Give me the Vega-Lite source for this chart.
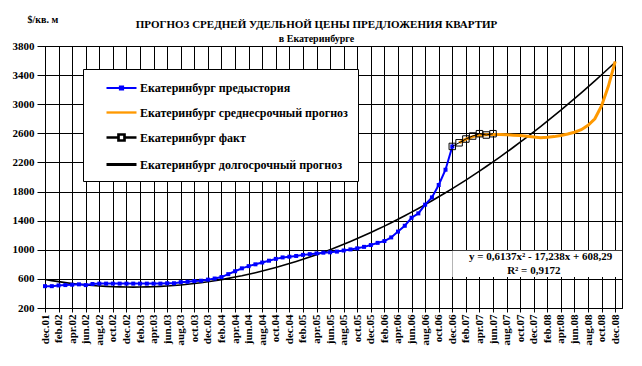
{
  "$schema": "https://vega.github.io/schema/vega-lite/v6.json",
  "width": 577,
  "height": 262,
  "autosize": {"type": "none"},
  "padding": {"left": 45, "top": 46, "right": 20, "bottom": 58},
  "background": "white",
  "title": {
    "text": "ПРОГНОЗ СРЕДНЕЙ УДЕЛЬНОЙ ЦЕНЫ ПРЕДЛОЖЕНИЯ КВАРТИР",
    "subtitle": "в Екатеринбурге",
    "anchor": "middle",
    "frame": "group",
    "dx": -17,
    "offset": -30,
    "font": "Liberation Serif, DejaVu Serif, serif",
    "fontSize": 11,
    "fontWeight": "bold",
    "color": "black",
    "subtitleFont": "Liberation Serif, DejaVu Serif, serif",
    "subtitleFontSize": 10,
    "subtitleFontWeight": "bold",
    "subtitleColor": "black",
    "subtitlePadding": 4
  },
  "resolve": {"axis": {"x": "independent", "y": "independent"}},
  "datasets": {
    "hist": [
      {"month": "dec.01", "value": 500}, {"month": "jan.02", "value": 500}, {"month": "feb.02", "value": 510}, {"month": "mar.02", "value": 515}, {"month": "apr.02", "value": 520}, {"month": "may.02", "value": 525}, {"month": "jun.02", "value": 515}, {"month": "jul.02", "value": 530}, {"month": "aug.02", "value": 535}, {"month": "sep.02", "value": 535}, {"month": "oct.02", "value": 535}, {"month": "nov.02", "value": 535}, {"month": "dec.02", "value": 535},
      {"month": "jan.03", "value": 535}, {"month": "feb.03", "value": 535}, {"month": "mar.03", "value": 535}, {"month": "apr.03", "value": 535}, {"month": "may.03", "value": 535}, {"month": "jun.03", "value": 540}, {"month": "jul.03", "value": 540}, {"month": "aug.03", "value": 555}, {"month": "sep.03", "value": 560}, {"month": "oct.03", "value": 570}, {"month": "nov.03", "value": 575}, {"month": "dec.03", "value": 590},
      {"month": "jan.04", "value": 605}, {"month": "feb.04", "value": 625}, {"month": "mar.04", "value": 665}, {"month": "apr.04", "value": 705}, {"month": "may.04", "value": 745}, {"month": "jun.04", "value": 775}, {"month": "jul.04", "value": 800}, {"month": "aug.04", "value": 825}, {"month": "sep.04", "value": 850}, {"month": "oct.04", "value": 875}, {"month": "nov.04", "value": 895}, {"month": "dec.04", "value": 905},
      {"month": "jan.05", "value": 915}, {"month": "feb.05", "value": 930}, {"month": "mar.05", "value": 940}, {"month": "apr.05", "value": 950}, {"month": "may.05", "value": 960}, {"month": "jun.05", "value": 965}, {"month": "jul.05", "value": 975}, {"month": "aug.05", "value": 990}, {"month": "sep.05", "value": 1005}, {"month": "oct.05", "value": 1020}, {"month": "nov.05", "value": 1040}, {"month": "dec.05", "value": 1065},
      {"month": "jan.06", "value": 1095}, {"month": "feb.06", "value": 1120}, {"month": "mar.06", "value": 1170}, {"month": "apr.06", "value": 1250}, {"month": "may.06", "value": 1330}, {"month": "jun.06", "value": 1440}, {"month": "jul.06", "value": 1500}, {"month": "aug.06", "value": 1620}, {"month": "sep.06", "value": 1720}, {"month": "oct.06", "value": 1890}, {"month": "nov.06", "value": 2100}, {"month": "dec.06", "value": 2420}
    ],
    "mid": [
      {"month": "jan.07", "value": 2470}, {"month": "feb.07", "value": 2520}, {"month": "mar.07", "value": 2555}, {"month": "apr.07", "value": 2575}, {"month": "may.07", "value": 2580}, {"month": "jun.07", "value": 2585}, {"month": "jul.07", "value": 2585}, {"month": "aug.07", "value": 2580}, {"month": "sep.07", "value": 2575}, {"month": "oct.07", "value": 2570}, {"month": "nov.07", "value": 2560}, {"month": "dec.07", "value": 2550},
      {"month": "jan.08", "value": 2540}, {"month": "feb.08", "value": 2545}, {"month": "mar.08", "value": 2555}, {"month": "apr.08", "value": 2570}, {"month": "may.08", "value": 2590}, {"month": "jun.08", "value": 2615}, {"month": "jul.08", "value": 2650}, {"month": "aug.08", "value": 2710}, {"month": "sep.08", "value": 2800}, {"month": "oct.08", "value": 2980}, {"month": "nov.08", "value": 3250}, {"month": "dec.08", "value": 3590}
    ],
    "fact": [
      {"month": "dec.06", "value": 2420}, {"month": "jan.07", "value": 2470}, {"month": "feb.07", "value": 2522}, {"month": "mar.07", "value": 2563}, {"month": "apr.07", "value": 2595}, {"month": "may.07", "value": 2577}, {"month": "jun.07", "value": 2595}
    ],
    "trend": [
      {"month": "dec.01", "value": 592}, {"month": "jan.02", "value": 576}, {"month": "feb.02", "value": 562}, {"month": "mar.02", "value": 549}, {"month": "apr.02", "value": 537}, {"month": "may.02", "value": 527}, {"month": "jun.02", "value": 518}, {"month": "jul.02", "value": 510}, {"month": "aug.02", "value": 503}, {"month": "sep.02", "value": 497}, {"month": "oct.02", "value": 493}, {"month": "nov.02", "value": 490}, {"month": "dec.02", "value": 488},
      {"month": "jan.03", "value": 487}, {"month": "feb.03", "value": 488}, {"month": "mar.03", "value": 490}, {"month": "apr.03", "value": 493}, {"month": "may.03", "value": 497}, {"month": "jun.03", "value": 502}, {"month": "jul.03", "value": 509}, {"month": "aug.03", "value": 517}, {"month": "sep.03", "value": 526}, {"month": "oct.03", "value": 536}, {"month": "nov.03", "value": 548}, {"month": "dec.03", "value": 561},
      {"month": "jan.04", "value": 575}, {"month": "feb.04", "value": 590}, {"month": "mar.04", "value": 607}, {"month": "apr.04", "value": 625}, {"month": "may.04", "value": 643}, {"month": "jun.04", "value": 664}, {"month": "jul.04", "value": 685}, {"month": "aug.04", "value": 708}, {"month": "sep.04", "value": 732}, {"month": "oct.04", "value": 757}, {"month": "nov.04", "value": 783}, {"month": "dec.04", "value": 811},
      {"month": "jan.05", "value": 839}, {"month": "feb.05", "value": 869}, {"month": "mar.05", "value": 901}, {"month": "apr.05", "value": 933}, {"month": "may.05", "value": 967}, {"month": "jun.05", "value": 1002}, {"month": "jul.05", "value": 1038}, {"month": "aug.05", "value": 1075}, {"month": "sep.05", "value": 1114}, {"month": "oct.05", "value": 1154}, {"month": "nov.05", "value": 1195}, {"month": "dec.05", "value": 1237},
      {"month": "jan.06", "value": 1281}, {"month": "feb.06", "value": 1325}, {"month": "mar.06", "value": 1371}, {"month": "apr.06", "value": 1419}, {"month": "may.06", "value": 1467}, {"month": "jun.06", "value": 1517}, {"month": "jul.06", "value": 1568}, {"month": "aug.06", "value": 1620}, {"month": "sep.06", "value": 1673}, {"month": "oct.06", "value": 1728}, {"month": "nov.06", "value": 1783}, {"month": "dec.06", "value": 1840},
      {"month": "jan.07", "value": 1899}, {"month": "feb.07", "value": 1958}, {"month": "mar.07", "value": 2019}, {"month": "apr.07", "value": 2081}, {"month": "may.07", "value": 2144}, {"month": "jun.07", "value": 2208}, {"month": "jul.07", "value": 2274}, {"month": "aug.07", "value": 2341}, {"month": "sep.07", "value": 2409}, {"month": "oct.07", "value": 2478}, {"month": "nov.07", "value": 2549}, {"month": "dec.07", "value": 2620},
      {"month": "jan.08", "value": 2693}, {"month": "feb.08", "value": 2768}, {"month": "mar.08", "value": 2843}, {"month": "apr.08", "value": 2920}, {"month": "may.08", "value": 2997}, {"month": "jun.08", "value": 3077}, {"month": "jul.08", "value": 3157}, {"month": "aug.08", "value": 3239}, {"month": "sep.08", "value": 3321}, {"month": "oct.08", "value": 3405}, {"month": "nov.08", "value": 3491}, {"month": "dec.08", "value": 3577}
    ]
  },
  "layer": [
    {
      "encoding": {
        "x": {
          "field": "month",
          "type": "ordinal",
          "scale": {
            "type": "point",
            "padding": 0,
            "domain": ["dec.01","jan.02","feb.02","mar.02","apr.02","may.02","jun.02","jul.02","aug.02","sep.02","oct.02","nov.02","dec.02","jan.03","feb.03","mar.03","apr.03","may.03","jun.03","jul.03","aug.03","sep.03","oct.03","nov.03","dec.03","jan.04","feb.04","mar.04","apr.04","may.04","jun.04","jul.04","aug.04","sep.04","oct.04","nov.04","dec.04","jan.05","feb.05","mar.05","apr.05","may.05","jun.05","jul.05","aug.05","sep.05","oct.05","nov.05","dec.05","jan.06","feb.06","mar.06","apr.06","may.06","jun.06","jul.06","aug.06","sep.06","oct.06","nov.06","dec.06","jan.07","feb.07","mar.07","apr.07","may.07","jun.07","jul.07","aug.07","sep.07","oct.07","nov.07","dec.07","jan.08","feb.08","mar.08","apr.08","may.08","jun.08","jul.08","aug.08","sep.08","oct.08","nov.08","dec.08","jan.09"]
          },
          "axis": {
            "title": null,
            "grid": true,
            "values": ["dec.01","feb.02","apr.02","jun.02","aug.02","oct.02","dec.02","feb.03","apr.03","jun.03","aug.03","oct.03","dec.03","feb.04","apr.04","jun.04","aug.04","oct.04","dec.04","feb.05","apr.05","jun.05","aug.05","oct.05","dec.05","feb.06","apr.06","jun.06","aug.06","oct.06","dec.06","feb.07","apr.07","jun.07","aug.07","oct.07","dec.07","feb.08","apr.08","jun.08","aug.08","oct.08","dec.08"],
            "labelAngle": 270,
            "labelFontSize": 11,
            "tickSize": 4,
            "labelPadding": 2
          }
        },
        "y": {
          "field": "value",
          "type": "quantitative",
          "scale": {"domain": [200, 3800], "nice": false, "zero": false},
          "axis": {
            "values": [200, 600, 1000, 1400, 1800, 2200, 2600, 3000, 3400, 3800],
            "format": "d",
            "grid": true,
            "title": "$/кв. м",
            "titleAngle": 0,
            "titleAlign": "left",
            "titleBaseline": "middle",
            "titleX": -18,
            "titleY": -27,
            "titleFont": "Liberation Serif, DejaVu Serif, serif",
            "titleFontSize": 10,
            "titleFontWeight": "bold",
            "titleColor": "black",
            "labelFontSize": 11,
            "tickSize": 8,
            "labelPadding": 3
          }
        }
      },
      "layer": [
        {
          "data": {"name": "trend"},
          "mark": {"type": "line", "color": "black", "strokeWidth": 1.6}
        },
        {
          "data": {"name": "hist"},
          "mark": {"type": "line", "color": "#0000ff", "strokeWidth": 2, "point": {"shape": "square", "size": 16, "filled": true, "color": "#0000ff"}}
        },
        {
          "data": {"name": "mid"},
          "mark": {"type": "line", "color": "#ff9900", "strokeWidth": 3}
        },
        {
          "data": {"name": "fact"},
          "mark": {"type": "line", "color": "black", "strokeWidth": 1, "point": {"shape": "square", "size": 42, "filled": false, "stroke": "black", "strokeWidth": 1}}
        },
        {
          "data": {"values": []},
          "mark": {"type": "point", "filled": false},
          "encoding": {
            "color": {
              "field": "series", "type": "nominal",
              "scale": {"domain": ["Екатеринбург предыстория", "Екатеринбург среднесрочный прогноз", "Екатеринбург факт", "Екатеринбург долгосрочный прогноз"], "range": ["#0000ff", "#ff9900", "black", "black"]},
              "legend": {"title": null}
            },
            "shape": {
              "field": "series", "type": "nominal",
              "scale": {"domain": ["Екатеринбург предыстория", "Екатеринбург среднесрочный прогноз", "Екатеринбург факт", "Екатеринбург долгосрочный прогноз"], "range": ["M-1.875,0H1.875M-0.2,-0.2H0.2V0.2H-0.2Z", "M-1.875,0H1.875", "M-1.875,0H-0.375M0.375,0H1.875M-0.375,-0.375H0.375V0.375H-0.375Z", "M-1.875,0H1.875"]},
              "legend": {"title": null}
            },
            "strokeWidth": {
              "field": "series", "type": "nominal",
              "scale": {"domain": ["Екатеринбург предыстория", "Екатеринбург среднесрочный прогноз", "Екатеринбург факт", "Екатеринбург долгосрочный прогноз"], "range": [2, 3, 1, 1.6]},
              "legend": {"title": null}
            }
          }
        }
      ]
    },
    {
      "data": {"values": [{}]},
      "mark": {"type": "rect", "fill": "white"},
      "encoding": {
        "x": {"datum": "dec.06", "type": "ordinal", "axis": null},
        "x2": {"datum": "jan.09"},
        "y": {"datum": 985, "type": "quantitative", "axis": null},
        "y2": {"datum": 625}
      }
    },
    {
      "data": {"values": [{}]},
      "mark": {"type": "text", "font": "Liberation Serif, DejaVu Serif, serif", "fontSize": 11, "fontWeight": "bold", "color": "black", "align": "center", "baseline": "middle", "text": "y = 0,6137x² - 17,238x + 608,29"},
      "encoding": {
        "x": {"datum": "jan.08", "type": "ordinal", "axis": null},
        "y": {"datum": 895, "type": "quantitative", "axis": null}
      }
    },
    {
      "data": {"values": [{}]},
      "mark": {"type": "text", "font": "Liberation Serif, DejaVu Serif, serif", "fontSize": 11, "fontWeight": "bold", "color": "black", "align": "center", "baseline": "middle", "text": "R² = 0,9172"},
      "encoding": {
        "x": {"datum": "dec.07", "type": "ordinal", "axis": null},
        "y": {"datum": 715, "type": "quantitative", "axis": null}
      }
    }
  ],
  "config": {
    "font": "Liberation Serif, DejaVu Serif, serif",
    "view": {"stroke": "black", "strokeWidth": 1},
    "axis": {
      "labelFont": "Liberation Serif, DejaVu Serif, serif",
      "labelFontWeight": "bold",
      "labelColor": "black",
      "gridColor": "black",
      "gridOpacity": 1,
      "gridWidth": 1,
      "domainColor": "black",
      "tickColor": "black"
    },
    "legend": {
      "orient": "none",
      "legendX": 38,
      "legendY": 23,
      "fillColor": "white",
      "strokeColor": "black",
      "padding": 10,
      "symbolOffset": 19,
      "labelOffset": 9,
      "rowPadding": 9,
      "labelFont": "Liberation Serif, DejaVu Serif, serif",
      "labelFontWeight": "bold",
      "labelFontSize": 12,
      "labelColor": "black",
      "labelLimit": 400,
      "symbolSize": 256,
      "symbolOpacity": 1,
      "symbolFillColor": "transparent"
    }
  }
}
